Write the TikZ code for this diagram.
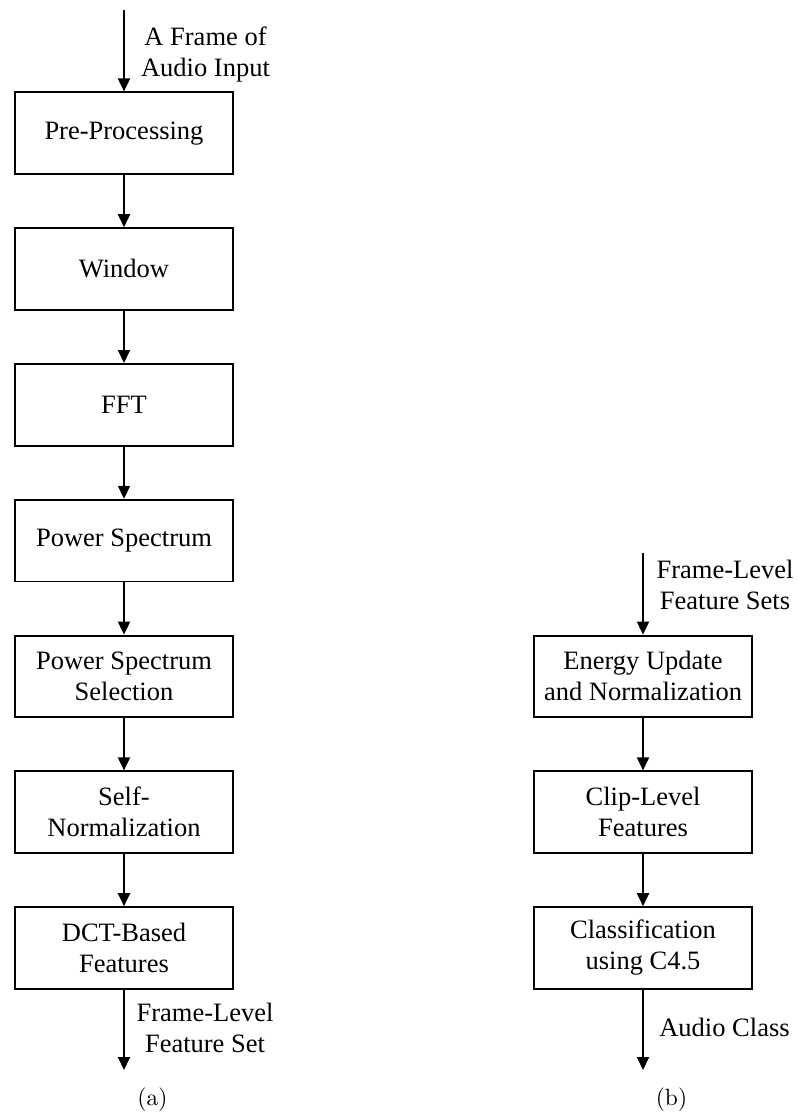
\documentclass[tikz,border=0pt]{standalone}
\usepackage{fontspec}
\usepackage{graphicx}
\newfontfamily\timesfont{Liberation Serif}
\usetikzlibrary{arrows.meta}
\newcommand{\subtag}[1]{\scalebox{2.35}{#1}}
\tikzset{
  stage/.style={draw, line width=1.9pt, minimum width=218pt, minimum height=81.7pt,
    inner sep=0pt, align=center, font=\timesfont\fontsize{26.5}{31}\selectfont},
  flowlabel/.style={inner sep=0pt, align=center, font=\timesfont\fontsize{26.5}{31}\selectfont},
  sublabel/.style={inner sep=0pt, font=\normalsize},
  flow/.style={line width=1.9pt, -{Triangle[width=12pt,length=13pt]}}
}
\begin{document}
\begin{tikzpicture}[x=1pt,y=-1pt]
\useasboundingbox (0,0) rectangle (798,1119);
% left column
\node[stage] (pre) at (124,133.2) {Pre-Processing};
\node[stage] (win) at (124,269.0) {Window};
\node[stage] (fft) at (124,404.8) {FFT};
\node[stage] (ps)  at (124,540.6) {Power Spectrum};
\node[stage] (pss) at (124,676.4) {Power Spectrum\\Selection};
\node[stage] (sn)  at (124,812.2) {Self-\\Normalization};
\node[stage] (dct) at (124,948.0) {DCT-Based\\Features};
\coordinate (inA) at (124,10);
\coordinate (outA) at (124,1070);
\draw[flow] (inA) -- (pre);
\draw[flow] (pre) -- (win);
\draw[flow] (win) -- (fft);
\draw[flow] (fft) -- (ps);
\draw[flow] (ps) -- (pss);
\draw[flow] (pss) -- (sn);
\draw[flow] (sn) -- (dct);
\draw[flow] (dct) -- (outA);
\node[flowlabel] (inAlab) at (205.5,54.3) {\strut A Frame of\\\strut Audio Input};
\node[flowlabel] (outAlab) at (205,1031) {\strut Frame-Level\\\strut Feature Set};
\node[sublabel] (suba) at (152.5,1100) {\subtag{(a)}};
% right column
\node[stage] (eun) at (643,676.4) {Energy Update\\and Normalization};
\node[stage] (clf) at (643,812.2) {Clip-Level\\Features};
\node[stage] (cls) at (643,948.0) {Classification\\using C4.5};
\coordinate (inB) at (643,553);
\coordinate (outB) at (643,1070);
\draw[flow] (inB) -- (eun);
\draw[flow] (eun) -- (clf);
\draw[flow] (clf) -- (cls);
\draw[flow] (cls) -- (outB);
\node[flowlabel] (inBlab) at (725,587.6) {\strut Frame-Level\\\strut Feature Sets};
\node[flowlabel] (outBlab) at (724.5,1030.5) {\strut Audio Class};
\node[sublabel] (subb) at (671.5,1100) {\subtag{(b)}};
\end{tikzpicture}
\end{document}
